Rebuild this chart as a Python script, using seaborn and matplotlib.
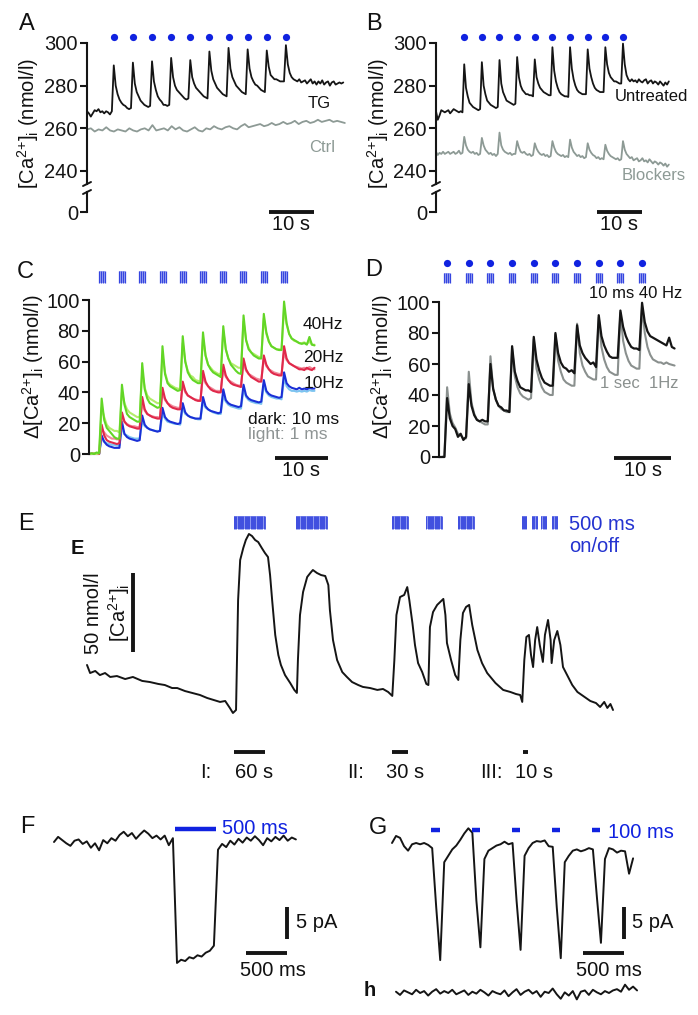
import numpy as np
import matplotlib
matplotlib.use('Agg')
import matplotlib.pyplot as plt
from matplotlib.lines import Line2D
from matplotlib.patches import Rectangle
import seaborn as sns

sns.set_theme(style='white')
plt.rcParams['font.family'] = ['Liberation Sans', 'DejaVu Sans']
plt.rcParams['mathtext.fontset'] = 'custom'
plt.rcParams['mathtext.rm'] = 'Liberation Sans'
plt.rcParams['text.color'] = '#111111'

# ---------------- data ----------------
# A: [Ca2+]i traces, sampled every 0.425 s (TG) / spread over 57.3 s (Ctrl)
dt_A = 0.425
tg_A = [268, 267, 265.5, 267, 268.5, 268, 269, 267.5, 268, 267, 268, 267.5, 266.5, 268,
        289.5, 280, 276, 273.5, 272, 271, 270.5, 269.5, 269, 269.5,
        290.8, 281, 277, 275, 273, 272, 271, 270.5, 270, 270.5,
        291.4, 282, 278, 275, 273.5, 272.5, 271, 271, 270.5, 271,
        293, 284, 280, 278, 277, 276, 275, 274, 273.5, 274,
        292, 284, 281, 279, 278, 277, 276, 275, 274.5, 274,
        296, 287, 283, 281, 279, 278, 277, 276, 275.5, 275,
        297.7, 288, 284, 282, 280, 279, 278, 277, 276.5, 276,
        297, 288, 284, 282, 280.5, 280, 279, 278, 277.5, 277,
        296.5, 289, 285, 284, 283, 283, 282.5, 282, 282, 282,
        299, 290, 286, 284, 283, 282.5, 282, 283, 281.5, 282, 282.5, 281, 282, 283, 281,
        282, 280.5, 282, 281, 282.5, 280.5, 281.5, 282, 280, 281.5, 282, 280.5, 281, 281.5, 281, 281.5]
ctrl_A = [259.5, 260, 258.5, 259.5, 259, 260.5, 259, 258.5, 259.5, 259, 258.5, 260, 259, 258.5,
          259.5, 260, 259, 261.5, 259, 259.5, 260, 259, 261, 259.5, 260.5, 259, 258.5, 259.5,
          260.5, 259, 258.5, 260, 259.5, 261, 260, 259.5, 260.5, 261, 260, 259.5, 261, 262,
          260.5, 261, 261.5, 262, 261, 261.5, 262.5, 261.5, 262, 263, 262, 262.5, 263.5, 262,
          263, 263.5, 262.5, 263, 264, 263, 263.5, 264, 263, 263.5, 263, 262.5]
ctrl_A_end = 57.3
stim_A = [5.95, 10.2, 14.45, 18.7, 22.95, 27.2, 31.45, 35.7, 39.95, 44.2]

# B: untreated vs blockers, sampled every 0.392 s
dt_B = 0.392
untreated_B = [268, 264, 266, 268.5, 268, 267.5, 268, 268.5, 267, 268, 269, 268.5, 268, 267.5, 268, 267.5,
               290, 279, 275, 272, 271, 270, 269.5, 269, 268.5, 269,
               291, 280, 276, 273, 272, 271, 270.5, 270, 269.5, 270,
               292, 281, 277, 275, 273, 272.5, 272, 271.5, 271, 271.5,
               293.4, 284, 280, 278, 277, 276, 276, 275.5, 275.5, 275,
               292.3, 284, 281, 279, 278, 277, 276.5, 276, 275.5, 275.5,
               298, 287, 282, 279, 277, 276, 275.5, 275, 275, 274.7,
               298, 288, 283, 280, 278, 277, 276.5, 276, 276, 276,
               297, 288, 284, 281, 279, 278, 277.5, 277, 277, 277,
               298, 290, 286, 284, 283, 282, 282, 281.5, 281, 281,
               299.7, 290, 285, 283, 282, 283, 282, 282.5, 281.5, 283, 282, 281.5, 282.5, 283,
               281, 282, 282.5, 281, 282, 281.5, 280.5, 282, 281, 280, 281.5, 280.5, 282]
blockers_B = [249, 247.5, 248.5, 248, 249, 248, 248.5, 249, 248, 248.5, 249, 248, 248.5, 249.5, 248, 248.5,
              256, 252, 250, 249, 248.5, 249, 248, 248.5, 247.5, 248,
              255.5, 252, 250, 249, 248, 248.5, 247.5, 248, 247, 248,
              258, 252, 250, 249, 248.5, 248, 248.5, 247.5, 248, 248,
              254, 251, 249, 248.5, 249, 248, 247.5, 248, 247, 247.5,
              253, 250.5, 249, 248, 247.5, 248, 247, 247.5, 246.5, 247,
              254, 251, 249, 248, 247.5, 247, 247.5, 246.5, 247, 246.5,
              254.7, 251, 249, 248, 247, 247.5, 246.5, 247, 246, 246.5,
              253, 250, 248.5, 247.5, 247, 246, 246.5, 245.5, 246, 245.5,
              252.3, 249.5, 248, 247, 246.5, 246, 245.5, 246, 245, 245.5,
              254, 250, 248, 247, 246, 246.5, 245, 245.5, 246, 244.5, 245, 246, 244.5, 245,
              244, 245.5, 244.5, 243.5, 244.5, 244, 243, 244, 243.5, 242.5, 243.5, 242, 243]
stim_B = [6.27, 10.19, 14.11, 18.03, 21.95, 25.87, 29.79, 33.71, 37.63, 41.55]

# C: delta [Ca2+]i at 40/20/10 Hz, dark = 10 ms, light = 1 ms; sampled every 0.478 s
dt_C = 0.478
green_dark = [0, 0.5, 0, 1, 0.5,
              36, 22, 17, 15, 13, 11, 10, 10,
              45, 32, 26, 24, 23, 22, 21, 21,
              59, 42, 36, 33, 32, 31, 30, 30.5,
              70, 52, 46, 44, 43, 42, 41, 41.5,
              76.5, 60, 53, 50, 48, 47, 46, 46,
              79, 64, 58, 55, 53, 52, 51, 50,
              83, 68, 62, 58, 56, 54, 52.5, 52,
              90, 74, 68, 66, 64, 63, 62, 62,
              91, 79, 73, 70, 69, 68, 67.5, 67.5,
              99, 85, 78, 75, 74, 73, 72, 71.5, 72, 71, 76, 71, 70.5]
green_light = [0, 0, 0.5, 0, 0.5,
               30, 24, 19, 17, 16, 15, 15, 14,
               40, 33, 29, 27, 26, 25, 24, 24,
               53, 43, 38, 36, 35, 34, 33, 33,
               64, 53, 47, 45, 44, 43, 42.5, 42,
               72, 60, 54, 51, 50, 48, 47.5, 47,
               75, 64, 58, 56, 54, 53, 52, 52,
               80, 68, 62, 59, 58, 57, 56, 56,
               86, 74, 69, 66, 65, 64, 63, 63,
               88, 78, 73, 70, 69, 68, 68, 68,
               94, 84, 78, 75, 73.5, 73, 72, 72, 72.5, 71.5, 73, 71, 71]
red_dark = [0, 0, 0.5, 0, 0,
            19, 12, 9, 8, 7.5, 7, 6.5, 7,
            27, 21, 19, 18, 17.5, 17, 16.5, 16.5,
            37, 29, 26, 25, 24, 23.5, 23, 23,
            43, 36, 33, 31, 30, 29.5, 29, 29,
            47, 41, 38, 37, 36, 35, 34.5, 34.5,
            54, 47, 44, 42, 41, 40.5, 40, 40,
            58, 51, 48, 46, 45, 44.5, 44, 43.5,
            62, 55, 52, 50, 49, 48, 47, 47,
            64, 58, 55, 53, 52, 51.5, 51, 51,
            70, 62, 59, 58, 57, 56, 55, 55, 54.5, 56, 55, 54.5, 56]
red_light = [0, 0.5, 0, 0, 0.5,
             16, 14, 12, 11, 10, 10, 9.5, 9.5,
             24, 21, 19.5, 18.5, 18, 18, 17.5, 17.5,
             33, 28, 26, 25, 24.5, 24, 24, 23.5,
             40, 35, 33, 32, 31, 30.5, 30, 30,
             45, 40, 38, 37, 36, 35.5, 35, 35,
             51, 46, 44, 43, 42, 41, 41, 40.5,
             55, 50, 48, 47, 46, 45, 44.5, 44.5,
             59, 54, 52, 51, 50, 49, 48.5, 48,
             62, 57, 55, 54, 53, 52.5, 52, 52,
             66, 61, 59, 58, 57, 56.5, 56, 55.5, 56, 55, 56.5, 55.5, 55]
blue_dark = [0, 0, 0, 0.5, 0,
             12, 8, 6, 5, 4.5, 4, 4, 4,
             21, 13, 11, 10, 9.5, 9, 8.5, 9,
             25, 19, 17, 16, 15.5, 15, 14.5, 15,
             30, 24, 22, 21, 20.5, 20, 19.5, 20,
             33, 27, 25, 24, 23.5, 23, 23, 23,
             37, 31, 29, 28, 27.5, 27, 26.5, 27,
             42, 35, 33, 32, 31.5, 31, 30.5, 31,
             45, 38, 36, 35, 34.5, 34, 33.5, 34,
             48, 41, 39, 38, 37.5, 37, 36.5, 37,
             53, 46, 44, 43, 42.5, 42, 43, 42, 42.5, 42, 43, 42.5, 42.5]
blue_light = [0, 0.5, 0, 0, 0,
              10, 8, 7, 6.5, 6, 6, 5.5, 5.5,
              17, 13, 12, 11, 10.5, 10, 10, 10,
              22, 18, 17, 16, 15.5, 15, 15, 15,
              26, 23, 21, 20.5, 20, 19.5, 19.5, 19,
              30, 26, 25, 24, 23.5, 23, 22.5, 22.5,
              34, 30, 29, 28, 27, 26.5, 26, 26,
              38, 34, 32, 31, 30.5, 30, 29.5, 29.5,
              42, 37, 35, 34, 33.5, 33, 33, 32.5,
              45, 40, 38, 37, 36.5, 36, 36, 35.5,
              49, 44, 42, 41, 41, 40.5, 41, 40.5, 41, 40.5, 41.5, 41, 41]
stim_C = [2.4, 6.2, 10.0, 13.9, 17.7, 21.5, 25.3, 29.1, 33.0, 36.8]

# D: 10 ms 40 Hz (black) vs 1 sec 1 Hz (gray); sampled every 0.475 s
dt_D = 0.475
black_D = [0, 0, 0,
           38, 25, 20, 18, 13, 15, 11, 13,
           47, 33, 27, 24, 23, 24, 23, 23,
           60, 44, 37, 33, 32, 30, 30, 29,
           71.5, 55, 49, 45, 44, 43, 43, 42,
           77.5, 63, 56, 51, 48, 47, 46, 46,
           80, 67, 61, 58, 57, 55, 56, 54,
           85, 72, 67, 64, 62, 60, 61, 58,
           91.5, 78, 72, 68, 65, 64, 64, 64,
           94.5, 84, 78, 74, 71, 70, 70, 69,
           99.5, 87, 81, 78, 77, 76, 75, 74, 73, 72, 77, 71, 70]
gray_D = [0, 0, 0.5,
          45, 28, 22, 19, 15, 14, 12, 12,
          55, 35, 28, 24, 23, 22, 21, 21,
          65, 44, 37, 33, 31, 30, 29, 29,
          70, 52, 45, 41, 39, 38, 37, 38,
          76, 57, 50, 45, 42, 41, 40, 40,
          79, 62, 55, 50, 48, 47, 46, 46,
          86, 67, 59, 55, 52, 51, 50, 50,
          90, 71, 63, 58, 55, 54, 53, 53,
          93, 75, 67, 62, 59, 58, 57, 57,
          97, 80, 71, 66, 63, 62, 61, 61, 60, 61, 60, 59.5, 59]
stim_D = [1.4, 5.2, 9.0, 12.8, 16.6, 20.4, 24.2, 28.0, 31.8, 35.6]

# E: long recording (time in s, [Ca2+]i in nmol/l above the lowest point)
t_E = [0, 6, 16, 25, 35, 45, 58, 74, 89, 107, 122, 138, 151, 165, 175, 190, 204, 219, 233, 246,
       258, 268, 277, 283, 289, 293, 297, 303, 308, 314, 320, 326, 332, 339, 345, 351, 355, 359, 365, 371,
       376, 384, 394, 402, 407, 409, 413, 419, 427, 433, 438, 446, 454, 462, 468, 471, 477, 485, 495, 504,
       514, 526, 535, 549, 563, 574, 584, 592, 596, 600, 607, 615, 621, 625, 631, 636, 642, 650, 658, 662,
       665, 671, 679, 687, 691, 695, 698, 706, 714, 720, 724, 729, 735, 741, 747, 757, 766, 776, 792, 807,
       821, 832, 840, 844, 848, 852, 857, 861, 865, 869, 873, 878, 884, 888, 894, 899, 901, 906, 912, 918,
       923, 931, 941, 951, 962, 976, 987, 995, 1003, 1009, 1015, 1020]
ca_E = [30.4, 25.3, 26.6, 24.0, 25.3, 22.8, 23.4, 21.5, 22.8, 20.3, 19.6, 18.4, 17.7, 15.8, 15.8, 13.9, 12.7, 11.4, 9.5, 8.2,
        7.0, 7.6, 3.2, 0.0, 1.9, 71.5, 96.8, 104.4, 109.5, 113.3, 112.0, 109.5, 108.2, 104.4, 101.3, 98.7, 87.3, 71.5, 49.4, 36.7,
        30.4, 24.0, 19.0, 14.6, 12.7, 33.5, 62.0, 76.6, 86.1, 88.6, 90.5, 88.6, 87.3, 86.7, 81.0, 65.2, 46.2, 33.5, 25.9, 22.8,
        19.6, 17.7, 16.5, 15.8, 14.6, 15.2, 13.3, 10.8, 33.5, 62.0, 73.4, 74.7, 79.7, 71.5, 57.0, 43.0, 31.6, 25.9, 18.4, 17.7,
        54.4, 63.9, 68.4, 70.9, 72.2, 62.0, 44.3, 33.5, 24.0, 20.9, 46.2, 63.3, 67.1, 68.4, 55.7, 39.9, 31.6, 25.3, 19.0, 14.6,
        13.3, 12.0, 11.4, 7.0, 33.5, 48.1, 49.4, 36.7, 29.1, 46.2, 54.4, 43.0, 32.3, 49.4, 58.9, 46.2, 31.6, 46.2, 51.9, 43.0,
        29.1, 24.0, 17.7, 13.3, 10.8, 7.6, 6.3, 3.8, 7.0, 3.2, 5.7, 1.9]
stim_E_start = [285, 405, 592, 658, 720, 843, 863, 881, 902]
stim_E_dur = [60, 60, 30, 30, 30, 11, 11, 11, 11]
scale_E = [("I:", "60 s", 285, 60), ("II:", "30 s", 592, 30), ("III:", "10 s", 845, 10)]

# F: one 500 ms pulse, current in pA every 50 ms
dt_F = 50
cur_F = [0.0, 0.8, 0.3, -0.2, -0.6, 0.2, 0.4, -0.3, 0.1, -0.9, -0.2, -1.3, 0.3, -0.2, 0.6,
         0.2, 1.1, 1.6, 0.9, 1.4, 0.5, 1.2, 1.8, 1.3, 0.6, 1.0, 0.4, 1.0, -0.5, 0.6,
         -18.9, -18.4, -18.6, -18.0, -18.2, -17.7, -17.9, -17.3, -17.0, -16.2,
         -1.2, -0.3, -0.8, 0.2, -0.4, 0.5, -0.1, 0.7, 0.2, 0.9, 0.3, -0.5, 0.6, 0.1, 0.8,
         0.3, 1.0, 0.2, 0.7, 0.4]
pulse_F = (1476, 500)

# G: five 100 ms pulses, current every 49 ms; h: control trace
dt_G = 49
cur_G = [0, 1.1, 0.8, -0.5, -1.2, -0.2, 0, -0.2, 0, -0.3,
         -0.8, -10, -18.3, -3.0, -2.0, -1.0, -0.4, 0.5, 1.5, 2.3,
         1.6, -9, -16.3, -2.5, -1.2, -0.8, -0.4, -0.2, 0.2, -0.2,
         0.0, -9, -16.7, -2.0, -0.8, 0.0, 0.3, 0.2, 0.4, -0.5,
         -0.6, -10, -18.0, -3.0, -2.0, -1.2, -1.0, -1.3, -1.1, -0.8,
         -1.0, -8.5, -15.6, -2.5, -0.8, -1.0, -1.5, -1.2, -1.3, -4.8, -2.4]
cur_h = [0.2, -0.3, 0.4, 0.1, -0.2, 0.5, 0.0, 0.3, -0.4, 0.2, 0.6, -0.1, 0.3, 0.0, 0.5, -0.2,
         0.1, 0.4, -0.3, 0.2, -0.1, 0.5, 0.1, -0.4, 0.3, 0.0, -0.2, 0.4, -0.5, 0.1, 0.6, -0.3,
         0.2, 0.5, -0.1, 0.3, -0.6, 0.2, 0.0, 0.7, -0.2, -0.9, 0.1, -0.4, 0.3, -1.0, 0.2, 0.4,
         -0.3, 0.5, 0.1, -0.2, 0.3, 0.0, 0.4, 0.6, 0.2, 1.3, 0.5, 1.0, 0.4]
pulse_G = [490, 980, 1470, 1960, 2450]
pulse_G_dur = 100

# ---------------- colours ----------------
INK = '#151515'
GREY = '#8d9a95'
BLUE = '#1022e0'
BAR_FC = '#a9b1f3'
BAR_LC = '#3545e0'

# ---------------- layout helpers (pixel boxes) ----------------
W, H = 698, 1015
fig = plt.figure(figsize=(W / 100, H / 100), dpi=100)
limits = {}


def new_ax(box, xo, xs, yo, yr, ys):
    x0, y0, x1, y1 = box
    ax = fig.add_axes([x0 / W, 1 - y1 / H, (x1 - x0) / W, (y1 - y0) / H])
    ax.patch.set_alpha(0)
    limits[ax] = ((x0 - xo) / xs, (x1 - xo) / xs, yr - (y1 - yo) / ys, yr + (yo - y0) / ys)
    return ax


def ftext(x, y, s, **kw):
    kw.setdefault('ha', 'center')
    kw.setdefault('va', 'center')
    fig.text(x / W, 1 - y / H, s, **kw)


def fline(x0, y0, x1, y1, lw=1.4):
    fig.add_artist(Line2D([x0 / W, x1 / W], [1 - y0 / H, 1 - y1 / H], color=INK, lw=lw,
                          transform=fig.transFigure))


def trace(ax, t, y, color, lw=1.3):
    sns.lineplot(x=np.asarray(t), y=np.asarray(y), ax=ax, color=color, lw=lw,
                 estimator=None, sort=False, legend=False)
    ax.set(xlabel='', ylabel='')


def y_axis(ax, ticks, lo, hi, labels=None):
    for s in ('top', 'right', 'bottom'):
        ax.spines[s].set_visible(False)
    ax.spines['left'].set_position(('data', 0))
    ax.spines['left'].set_bounds(lo, hi)
    ax.spines['left'].set_color(INK)
    ax.spines['left'].set_linewidth(1.5)
    ax.set_xticks([])
    ax.set_yticks(ticks)
    if labels is not None:
        ax.set_yticklabels(labels)
    ax.tick_params(axis='y', left=True, direction='out', length=5, width=1.5,
                   labelsize=14.5, pad=1.5, colors=INK)


def hbar(ax, x0, x1, y, color=INK, lw=2.8):
    ax.plot([x0, x1], [y, y], color=color, lw=lw, solid_capstyle='butt', clip_on=False)


def vbar(ax, x, y0, y1, lw=2.8):
    ax.plot([x, x], [y0, y1], color=INK, lw=lw, solid_capstyle='butt', clip_on=False)


def stim_group(ax, t, width, y0, y1, n_lines):
    ax.add_patch(Rectangle((t - width / 2, y0), width, y1 - y0, fc=BAR_FC, ec='none', clip_on=False))
    ax.vlines(np.linspace(t - width / 2, t + width / 2, n_lines), y0, y1, color=BAR_LC, lw=0.9, clip_on=False)


CA = r'[Ca$\mathregular{^{2{+}}}$]$\mathregular{_i}$'
CA_LABEL = CA + ' (nmol/l)'
DCA_LABEL = r'$\mathregular{\Delta}$' + CA_LABEL

# ---------------- A ----------------
axA = new_ax((60, 28, 360, 184), 87, 4.5, 43, 300, 2.133)
trace(axA, np.linspace(0, ctrl_A_end, len(ctrl_A)), ctrl_A, GREY)
trace(axA, np.arange(len(tg_A)) * dt_A, tg_A, INK)
axA.plot(stim_A, [303] * len(stim_A), 'o', color=BLUE, ms=5.2, mec='none', clip_on=False)
y_axis(axA, [240, 260, 280, 300], limits[axA][2], 300)
axA0 = new_ax((60, 186, 360, 216), 87, 4.5, 212, 0, 1.0)
y_axis(axA0, [0], 0, 20)
hbar(axA0, 40.4, 50.4, 0)
ftext(291, 224, '10 s', fontsize=14.5)
ftext(319, 104, 'TG', fontsize=12)
ftext(322, 147, 'Ctrl', fontsize=12, color=GREY)
ftext(28, 124, CA_LABEL, fontsize=14.5, rotation=90)
ftext(27, 24, 'A', fontsize=17)
fline(83, 186, 91, 182)
fline(83, 194, 91, 190)

# ---------------- B ----------------
axB = new_ax((410, 28, 695, 184), 436, 4.5, 43, 300, 2.133)
trace(axB, np.arange(len(blockers_B)) * dt_B, blockers_B, GREY)
trace(axB, np.arange(len(untreated_B)) * dt_B, untreated_B, INK)
axB.plot(stim_B, [303] * len(stim_B), 'o', color=BLUE, ms=5.2, mec='none', clip_on=False)
y_axis(axB, [240, 260, 280, 300], limits[axB][2], 300)
axB0 = new_ax((410, 186, 695, 216), 436, 4.5, 212, 0, 1.0)
y_axis(axB0, [0], 0, 20)
hbar(axB0, 35.8, 45.8, 0)
ftext(619, 224, '10 s', fontsize=14.5)
ftext(651, 96, 'Untreated', fontsize=12)
ftext(654, 175, 'Blockers', fontsize=12, color=GREY)
ftext(378, 124, CA_LABEL, fontsize=14.5, rotation=90)
ftext(374, 24, 'B', fontsize=17)
fline(432, 186, 440, 182)
fline(432, 194, 440, 190)

# ---------------- C ----------------
axC = new_ax((60, 262, 345, 475), 89, 5.3, 454, 0, 1.54)
tC = np.arange(len(green_dark)) * dt_C
for vals, col in [(blue_light, '#7cc4f0'), (blue_dark, '#1a2fd6'),
                  (red_light, '#f08a9a'), (red_dark, '#e0284a'),
                  (green_light, '#b4ec6c'), (green_dark, '#62d626')]:
    trace(axC, tC, vals, col, lw=1.5)
for t in stim_C:
    stim_group(axC, t, 1.15, 111, 119, 4)
y_axis(axC, [0, 20, 40, 60, 80, 100], 0, 100)
hbar(axC, 35.1, 45.1, -2.6)
ftext(303, 325, '40Hz', fontsize=12.5, ha='left')
ftext(303, 357, '20Hz', fontsize=12.5, ha='left')
ftext(304, 383, '10Hz', fontsize=12.5, ha='left')
ftext(248, 420, 'dark: 10 ms', fontsize=12.5, ha='left')
ftext(248, 434, 'light: 1 ms', fontsize=12.5, ha='left', color='#8e9494')
ftext(301, 471, '10 s', fontsize=14.5)
ftext(33, 367, DCA_LABEL, fontsize=14.5, rotation=90)
ftext(25, 272, 'C', fontsize=17)

# ---------------- D ----------------
axD = new_ax((405, 252, 695, 475), 439, 5.7, 457, 0, 1.55)
tD = np.arange(len(black_D)) * dt_D
trace(axD, tD, gray_D, '#8a908e', lw=1.5)
trace(axD, tD, black_D, INK, lw=1.6)
axD.plot(stim_D, [125.2] * len(stim_D), 'o', color=BLUE, ms=5.2, mec='none', clip_on=False)
for t in stim_D:
    stim_group(axD, t, 1.05, 112, 119, 4)
y_axis(axD, [0, 20, 40, 60, 80, 100], 0, 100)
hbar(axD, 30.7, 40.7, -0.6)
ftext(636, 293, '10 ms 40 Hz', fontsize=12)
ftext(639, 384, '1 sec  1Hz', fontsize=12, color='#8a908e')
ftext(643, 471, '10 s', fontsize=14.5)
ftext(382, 367, DCA_LABEL, fontsize=14.5, rotation=90)
ftext(374, 270, 'D', fontsize=17)

# ---------------- E ----------------
axE = new_ax((55, 505, 660, 790), 87, 0.5157, 713, 0, 1.58)
trace(axE, t_E, ca_E, INK, lw=1.4)
for s, d in zip(stim_E_start, stim_E_dur):
    axE.add_patch(Rectangle((s, 116.5), d, 8.2, fc='#8c97f0', ec='none', clip_on=False))
    axE.vlines(np.arange(s, s + d, 2.3), 116.5, 124.7, color='#3343dc', lw=0.6, clip_on=False)
vbar(axE, 89, 38.6, 88.6)
for roman, lab, s, d in scale_E:
    hbar(axE, s, s + d, -24.7)
axE.axis('off')
ftext(206, 773, 'I:', fontsize=14.5)
ftext(254, 773, '60 s', fontsize=14.5)
ftext(356, 773, 'II:', fontsize=14.5)
ftext(405, 773, '30 s', fontsize=14.5)
ftext(491, 773, 'III:', fontsize=14.5)
ftext(534, 773, '10 s', fontsize=14.5)
ftext(569, 524, '500 ms', fontsize=14.5, ha='left', color='#2433d0')
ftext(569, 547, 'on/off', fontsize=14.5, ha='left', color='#2433d0')
ftext(93, 613, '50 nmol/l', fontsize=14.5, rotation=90)
ftext(119, 613, CA, fontsize=14.5, rotation=90)
ftext(77, 548, 'E', fontsize=14.5, fontweight='bold')
ftext(26, 524, 'E', fontsize=17)

# ---------------- F ----------------
axF = new_ax((45, 815, 345, 1000), 54, 0.082, 842, 0, 6.4)
trace(axF, np.arange(len(cur_F)) * dt_F, cur_F, INK, lw=1.4)
hbar(axF, pulse_F[0], pulse_F[0] + pulse_F[1], 2.0, color=BLUE, lw=3.2)
vbar(axF, 2841, -15.2, -10.2)
hbar(axF, 2341, 2841, -17.3)
axF.axis('off')
ftext(222, 829, '500 ms', fontsize=14.5, ha='left', color=BLUE)
ftext(296, 922, '5 pA', fontsize=14.5, ha='left')
ftext(273, 970, '500 ms', fontsize=14.5)
ftext(27, 827, 'F', fontsize=17)

# ---------------- G / h ----------------
axG = new_ax((385, 815, 695, 975), 392, 0.082, 843, 0, 6.4)
trace(axG, np.arange(len(cur_G)) * dt_G, cur_G, INK, lw=1.4)
for p in pulse_G:
    hbar(axG, p - 10, p + pulse_G_dur - 10, 2.0, color=BLUE, lw=3.2)
vbar(axG, 2829, -15.0, -10.0)
hbar(axG, 2329, 2829, -17.2)
axG.axis('off')
ftext(608, 832, '100 ms', fontsize=14.5, ha='left', color=BLUE)
ftext(632, 922, '5 pA', fontsize=14.5, ha='left')
ftext(609, 970, '500 ms', fontsize=14.5)
ftext(378, 828, 'G', fontsize=17)

axh = new_ax((385, 975, 695, 1012), 396, 0.082, 993, 0, 6.4)
trace(axh, np.arange(len(cur_h)) * dt_G, cur_h, INK, lw=1.4)
axh.axis('off')
ftext(370, 991, 'h', fontsize=14.5, fontweight='bold')

for ax, (x0, x1, y0, y1) in limits.items():
    ax.set_xlim(x0, x1)
    ax.set_ylim(y0, y1)

fig.savefig('out.png', dpi=100)
